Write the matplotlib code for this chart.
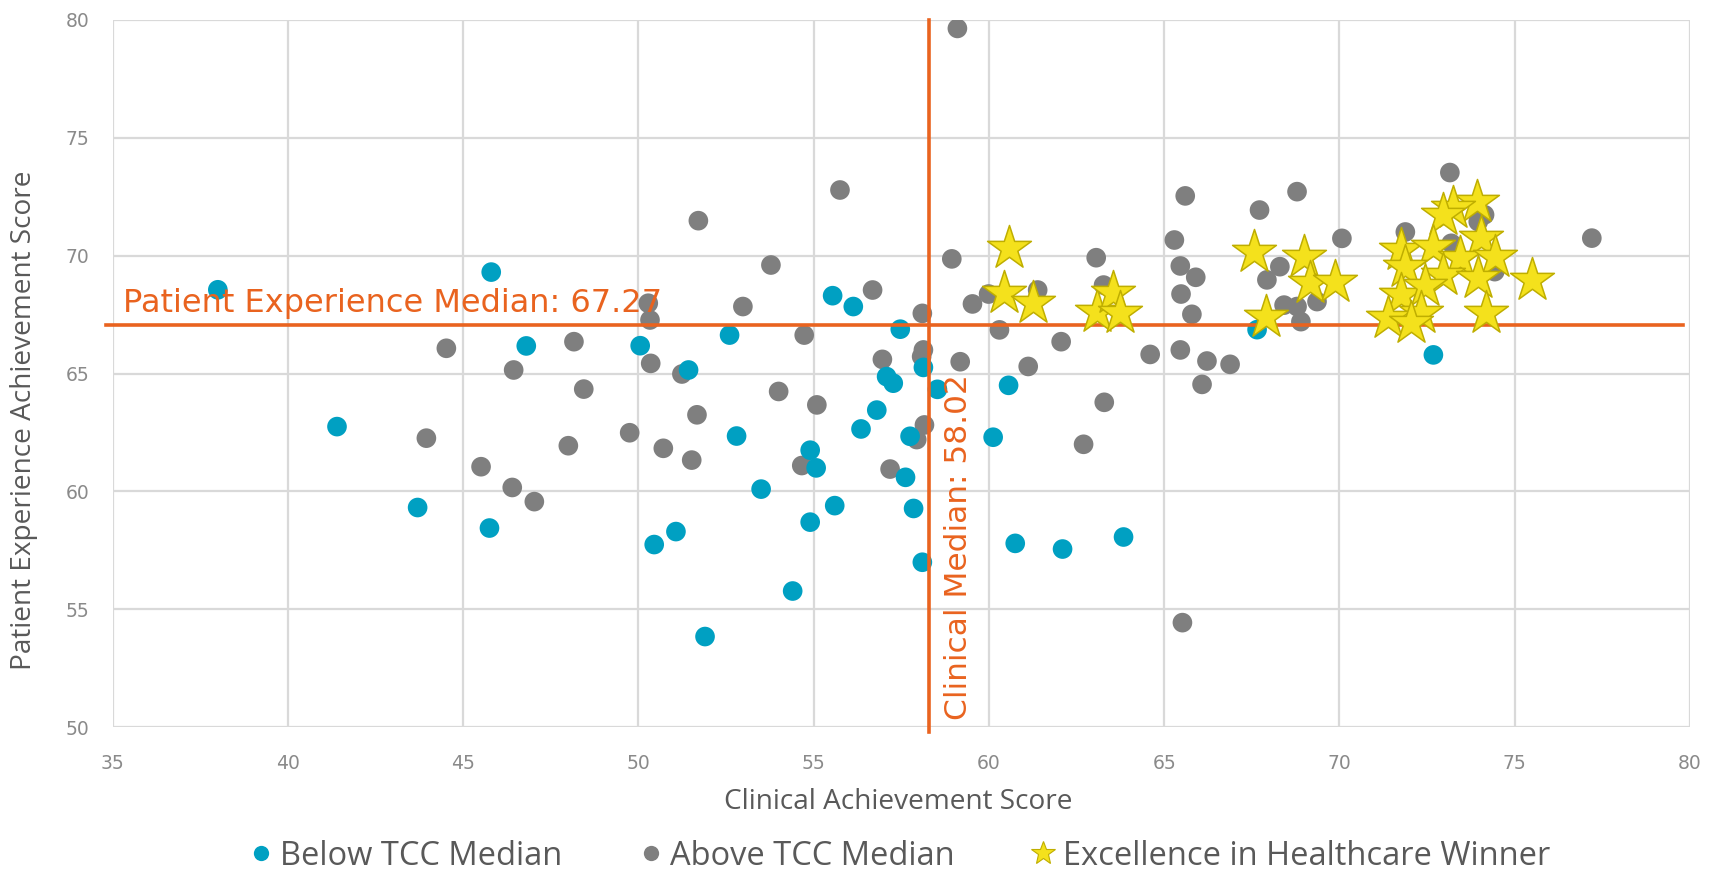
import matplotlib
matplotlib.use("Agg")
import matplotlib.pyplot as plt
from matplotlib.lines import Line2D

# ---- data ----
below_x = [38.0, 41.4, 43.7, 45.8, 45.75, 46.8, 50.05, 51.43, 50.45, 51.07, 51.9, 52.6, 52.8,
           53.5, 54.4, 54.9, 55.07, 54.9, 55.6, 55.54, 56.13, 56.35, 56.8, 57.08, 57.27, 57.47,
           57.62, 57.85, 58.13, 58.1, 58.53, 57.75, 60.12, 60.56, 60.75, 62.1, 63.84, 67.65, 72.68]
below_y = [68.55, 62.75, 59.32, 69.3, 58.45, 66.17, 66.18, 65.15, 57.75, 58.3, 53.85, 66.63, 62.35,
           60.1, 55.78, 61.75, 61.0, 58.7, 59.4, 68.3, 67.84, 62.65, 63.45, 64.87, 64.59, 66.88,
           60.6, 59.28, 65.26, 57.0, 64.33, 62.34, 62.3, 64.5, 57.8, 57.56, 58.07, 66.86, 65.79]

above_x = [43.95, 44.52, 45.51, 46.4, 46.44, 47.03, 48.16, 48.44, 48.0, 49.75, 50.28, 50.33, 50.35,
           50.71, 51.24, 51.52, 51.67, 51.71, 52.98, 53.78, 54.0, 54.66, 54.73, 55.09, 55.75, 56.68,
           56.96, 57.18, 58.1, 58.13, 58.08, 58.16, 57.94, 58.94, 59.1, 59.18, 59.53, 59.99, 60.3,
           61.12, 61.39, 62.06, 62.7, 63.06, 63.27, 63.29, 64.6, 65.29, 65.46, 65.48, 65.46, 65.6,
           65.79, 65.9, 66.08, 66.22, 66.88, 65.52, 67.72, 67.93, 68.3, 68.42, 68.79, 68.9, 68.79,
           69.36, 70.07, 71.88, 73.15, 73.19, 73.96, 74.14, 74.43, 77.2]
above_y = [62.26, 66.07, 61.05, 60.17, 65.15, 59.57, 66.35, 64.34, 61.94, 62.49, 67.98, 67.27, 65.43,
           61.83, 64.98, 61.33, 63.25, 71.48, 67.84, 69.6, 64.24, 61.1, 66.63, 63.67, 72.78, 68.54,
           65.6, 60.95, 67.55, 66.0, 65.72, 62.82, 62.2, 69.86, 79.63, 65.5, 67.95, 68.37, 66.85,
           65.3, 68.54, 66.35, 62.0, 69.91, 68.75, 63.78, 65.81, 70.66, 69.56, 68.37, 66.0, 72.53,
           67.51, 69.08, 64.54, 65.53, 65.39, 54.44, 71.93, 68.97, 69.53, 67.9, 67.84, 67.2, 72.71,
           68.05, 70.73, 71.0, 73.52, 70.52, 71.44, 71.73, 69.32, 70.74]

winner_x = [60.56, 60.43, 61.25, 63.08, 63.55, 63.74, 67.55, 67.9, 68.98, 69.17, 69.88,
            73.91, 73.24, 72.96, 74.05, 71.77, 72.67, 73.43, 74.43, 71.86, 72.96, 73.96, 75.48,
            71.77, 72.43, 72.34, 71.39, 72.05, 74.19]
winner_y = [70.31, 68.43, 68.0, 67.62, 68.4, 67.55, 70.17, 67.38, 69.95, 68.83, 68.86,
            72.29, 72.0, 71.73, 70.74, 70.24, 70.38, 69.89, 69.96, 69.53, 69.18, 69.04, 68.97,
            68.33, 68.69, 67.56, 67.35, 67.13, 67.56]

clinical_median = 58.02
patient_median = 67.27
clinical_line_x = 58.3   # where the line is drawn in the reference
patient_line_y = 67.06

x_ticks = [35, 40, 45, 50, 55, 60, 65, 70, 75, 80]
y_ticks = [50, 55, 60, 65, 70, 75, 80]

legend_labels = ["Below TCC Median", "Above TCC Median", "Excellence in Healthcare Winner"]

# ---- style ----
FONT = "Open Sans"
BLUE = "#00a0c2"
GRAY = "#7f7f7f"
ORANGE = "#e9631f"
STAR_FACE = "#f4e11c"
STAR_EDGE = "#bfae00"
GRID = "#d9d9d9"
TICK = "#8a8a8a"
LABEL = "#595959"

plt.rcParams["font.family"] = [FONT, "DejaVu Sans"]

fig = plt.figure(figsize=(17.15, 8.71), dpi=100)
ax = fig.add_axes([0.0657, 0.1649, 0.9197, 0.8125])

ax.set_xlim(35, 80)
ax.set_ylim(50, 80)
ax.set_xticks(x_ticks)
ax.set_yticks(y_ticks)
ax.grid(True, color=GRID, linewidth=1.6, zorder=0)
for s in ax.spines.values():
    s.set_visible(False)
ax.tick_params(length=0, labelsize=13.5, colors=TICK)
ax.tick_params(axis="x", pad=19)
ax.tick_params(axis="y", pad=17)
for lab in ax.get_xticklabels() + ax.get_yticklabels():
    lab.set_color(TICK)
    lab.set_family("DejaVu Sans")

ax.scatter(above_x, above_y, s=200, color=GRAY, edgecolors="none", zorder=3)
ax.scatter(below_x, below_y, s=200, color=BLUE, edgecolors="none", zorder=3)

# median lines
ax.plot([34.8, 79.8], [patient_line_y, patient_line_y], color=ORANGE, lw=2.6, zorder=4, clip_on=False)
ax.plot([clinical_line_x, clinical_line_x], [80, 49.8], color=ORANGE, lw=2.6, zorder=4, clip_on=False)

ax.scatter(winner_x, winner_y, s=1100, marker="*", color=STAR_FACE, edgecolors=STAR_EDGE,
           linewidths=1.1, zorder=5)

ax.text(35.3, 67.6, f"Patient Experience Median: {patient_median:.2f}", color=ORANGE,
        fontsize=23, ha="left", va="baseline", zorder=6, family="DejaVu Sans")
ax.text(58.72, 50.3, f"Clinical Median: {clinical_median:.2f}", color=ORANGE,
        fontsize=22.5, ha="left", va="bottom", rotation=90, zorder=6, family="DejaVu Sans")

fig.text(0.524, 0.079, "Clinical Achievement Score", color=LABEL, fontsize=20.2,
         ha="center", va="center")
fig.text(0.014, 0.518, "Patient Experience Achievement Score", color=LABEL, fontsize=20.2,
         ha="center", va="center", rotation=90)

handles = [
    Line2D([], [], ls="none", marker="o", markersize=11, color=BLUE, markeredgecolor="none"),
    Line2D([], [], ls="none", marker="o", markersize=11, color=GRAY, markeredgecolor="none"),
    Line2D([], [], ls="none", marker="*", markersize=18, color=STAR_FACE, markeredgecolor=STAR_EDGE,
           markeredgewidth=0.8),
]
leg = fig.legend(handles, legend_labels, loc="center", bbox_to_anchor=(0.524, 0.017), ncol=3,
                 frameon=False, fontsize=23.5, handletextpad=0.2, columnspacing=2.3,
                 handlelength=0.8)
for t in leg.get_texts():
    t.set_color(LABEL)

fig.savefig("out.png", dpi=100)
